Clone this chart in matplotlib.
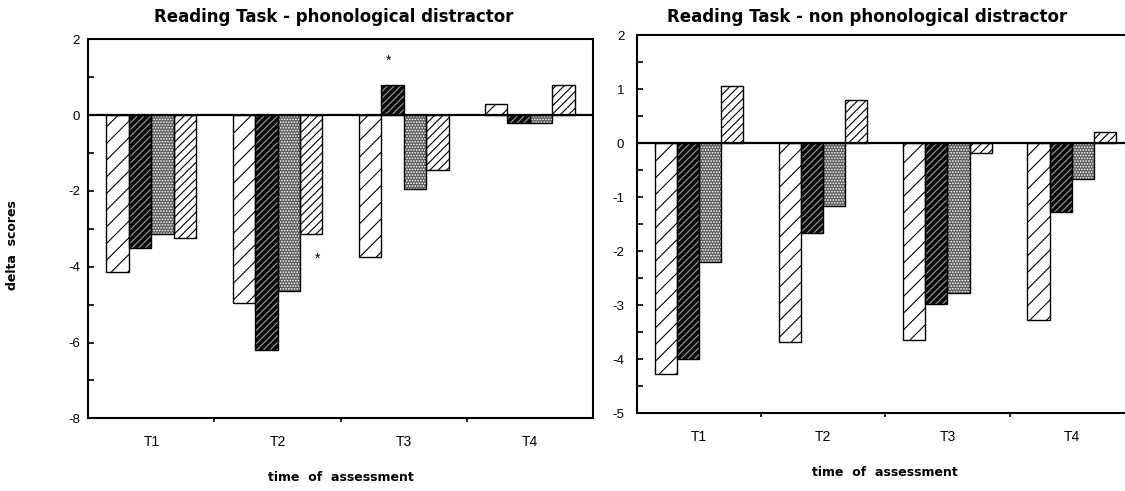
import numpy as np
import matplotlib
matplotlib.use("Agg")
import matplotlib.pyplot as plt
from matplotlib.ticker import MultipleLocator, FixedLocator, NullFormatter

plt.rcParams['axes.unicode_minus'] = False
plt.rcParams['font.family'] = ['Liberation Sans', 'DejaVu Sans']
plt.rcParams['hatch.linewidth'] = 0.8

# delta scores per assessment (T1..T4), one list per group
times = ['T1', 'T2', 'T3', 'T4']

phon_g1 = [-4.15, -4.95, -3.75, 0.3]
phon_g2 = [-3.5, -6.2, 0.8, -0.2]
phon_g3 = [-3.15, -4.65, -1.95, -0.2]
phon_g4 = [-3.25, -3.15, -1.45, 0.8]

nonphon_g1 = [-4.27, -3.67, -3.65, -3.27]
nonphon_g2 = [-4.0, -1.67, -2.97, -1.27]
nonphon_g3 = [-2.2, -1.17, -2.78, -0.67]
nonphon_g4 = [1.05, 0.8, -0.18, 0.2]

# (facecolor, hatch colour, hatch) for each group
styles = [
    ('white', 'black', '//'),
    ('#0a0a0a', '#9a9a9a', '/////'),
    ('#5c5c5c', 'white', '......'),
    ('white', 'black', '////'),
]

bw = 0.178


def draw_panel(ax, series, ylim, major, minor):
    x = np.arange(len(times))
    for i, vals in enumerate(series):
        fc, hc, h = styles[i]
        pos = x + (i - 1.5) * bw
        ax.bar(pos, vals, bw, color=fc, edgecolor=hc, linewidth=0, hatch=h, zorder=2)
        ax.bar(pos, vals, bw, fill=False, edgecolor='black', linewidth=1.0, zorder=3)
    ax.axhline(0, color='black', linewidth=1.6, zorder=4)
    ax.set_xlim(-0.5, len(times) - 0.5)
    ax.set_ylim(*ylim)
    ax.yaxis.set_major_locator(MultipleLocator(major))
    ax.yaxis.set_minor_locator(MultipleLocator(minor))
    ax.tick_params(axis='y', which='both', direction='in', length=4, width=1.2,
                   labelsize=9.5, pad=6)
    ax.set_xticks(x)
    ax.set_xticklabels(times)
    ax.xaxis.set_minor_locator(FixedLocator(x[:-1] + 0.5))
    ax.xaxis.set_minor_formatter(NullFormatter())
    ax.tick_params(axis='x', which='major', length=0, labelsize=10, pad=12)
    ax.tick_params(axis='x', which='minor', direction='out', length=3, width=1.2)
    for s in ax.spines.values():
        s.set_linewidth(1.5)
    ax.set_xlabel('time  of  assessment', fontsize=9, fontweight='bold',
                  family='DejaVu Sans', labelpad=16)


fig = plt.figure(figsize=(11.25, 4.91), dpi=100)

ax1 = fig.add_axes([0.0785, 0.148, 0.4486, 0.772])
draw_panel(ax1, [phon_g1, phon_g2, phon_g3, phon_g4], (-8, 2), 2, 1)
ax1.set_ylabel('delta  scores', fontsize=9, fontweight='bold', family='DejaVu Sans')
ax1.yaxis.set_label_coords(-0.137, 0.457)

# significance marks
ax1.text(2 - 0.5 * bw - 0.03, phon_g2[2] + 0.45, '*', ha='center', va='bottom', fontsize=10)
ax1.text(1 + 1.5 * bw + 0.05, phon_g4[1] - 0.45, '*', ha='center', va='top', fontsize=10)

ax2 = fig.add_axes([0.566, 0.158, 0.4418, 0.7705])
draw_panel(ax2, [nonphon_g1, nonphon_g2, nonphon_g3, nonphon_g4], (-5, 2), 1, 0.5)
ax2.tick_params(axis='y', pad=9)

fig.text(334 / 1125, 1 - 17 / 491, 'Reading Task - phonological distractor',
         ha='center', va='center', fontsize=12, fontweight='bold', family='DejaVu Sans')
fig.text(867 / 1125, 1 - 17 / 491, 'Reading Task - non phonological distractor',
         ha='center', va='center', fontsize=12, fontweight='bold', family='DejaVu Sans')

fig.savefig('out.png', dpi=100)
